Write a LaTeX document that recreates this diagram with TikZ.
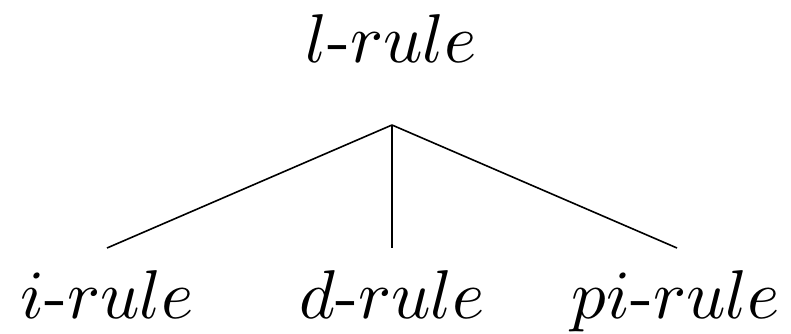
\documentclass[tikz,border=0pt]{standalone}
\usepackage{graphicx}
\newcommand{\biglab}[1]{\scalebox{6.9}{#1}}
\begin{document}
\begin{tikzpicture}[x=1pt,y=1pt,
  lab/.style={anchor=base,inner sep=0pt},
  edge/.style={line width=1.6pt}]
\useasboundingbox (0,0) rectangle (791,333);
\node[lab] (l) at (391,271) {\biglab{$l$-$rule$}};
\coordinate (apex) at (392,208);
\node[lab] (i) at (107,15) {\biglab{$i$-$rule$}};
\node[lab] (d) at (392,15) {\biglab{$d$-$rule$}};
\node[lab] (p) at (676,15) {\biglab{$pi$-$rule$}};
\draw[edge] (apex) -- ([yshift=70pt]i.base);
\draw[edge] (apex) -- ([yshift=70pt]d.base);
\draw[edge] (apex) -- ([yshift=70pt,xshift=1pt]p.base);
\end{tikzpicture}
\end{document}
